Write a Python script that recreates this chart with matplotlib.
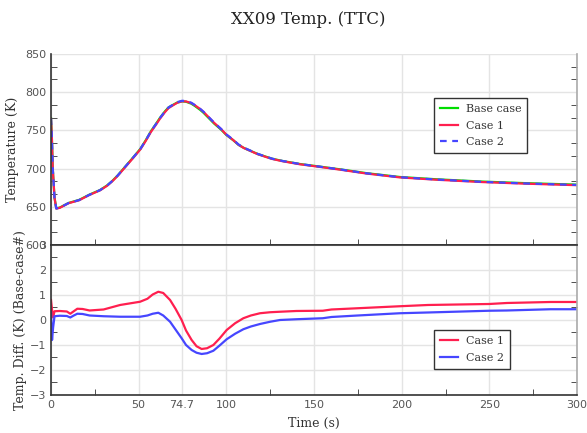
import matplotlib
matplotlib.use("Agg")
import matplotlib.pyplot as plt
from matplotlib.ticker import MultipleLocator, FixedLocator
import numpy as np

# base case temperature (K) vs time (s)
t_base = [0, 0.5, 1, 2, 3, 5, 10, 16, 22, 28, 32, 35, 38, 41, 44, 47, 51, 54, 57, 60, 62,
          65, 67, 70, 72, 74.7, 77, 80, 82, 85, 87, 90, 93, 95, 97, 100, 104, 107, 110, 114,
          118, 122, 126, 132, 142, 152, 165, 180, 199, 220, 246, 270, 300]
T_base = [766, 740, 700, 662, 648, 649, 655, 659, 666, 672, 678, 684, 691, 699, 707, 715,
          726, 737, 749, 759, 766, 775, 780, 784, 786.5, 788, 787.5, 785, 782, 777, 773,
          766, 759, 755, 751, 744, 737, 731, 727, 723, 719, 716, 713, 710, 706, 703, 699,
          694, 689, 686, 683, 681, 679]

# temperature differences (K), base - case
t_diff = [0, 0.6, 1.2, 2, 5, 9, 11, 13, 15, 18, 22, 30, 39.4, 50.8, 55, 58, 61.2, 64, 67.9,
          71, 74.5, 77, 80.2, 83, 85.9, 89, 92.6, 96, 100.2, 105, 109.7, 114, 119.2, 125,
          130.6, 140, 155, 160, 175, 199, 215, 250, 260, 285, 300]
d_case1 = [0.8, 0.4, 0.1, 0.35, 0.36, 0.34, 0.25, 0.35, 0.45, 0.44, 0.38, 0.42, 0.6, 0.73,
           0.85, 1.02, 1.13, 1.08, 0.8, 0.45, 0.0, -0.42, -0.8, -1.05, -1.16, -1.13, -1.0,
           -0.75, -0.4, -0.13, 0.07, 0.18, 0.27, 0.31, 0.33, 0.36, 0.37, 0.42, 0.47, 0.55,
           0.6, 0.64, 0.68, 0.72, 0.72]
d_case2 = [0.3, -0.8, -0.3, 0.15, 0.17, 0.16, 0.1, 0.18, 0.25, 0.24, 0.18, 0.15, 0.13, 0.13,
           0.18, 0.25, 0.29, 0.18, -0.07, -0.38, -0.73, -1.0, -1.2, -1.31, -1.36, -1.33,
           -1.23, -1.03, -0.77, -0.55, -0.37, -0.26, -0.16, -0.07, 0.0, 0.03, 0.07, 0.12,
           0.18, 0.27, 0.3, 0.37, 0.38, 0.43, 0.43]

x_ticks = [0, 50, 74.7, 100, 150, 200, 250, 300]
x_labels = ["0", "50", "74.7", "100", "150", "200", "250", "300"]

green = "#00dd00"
red = "#ff1f4f"
blue = "#4646ff"

# case temperatures from base and differences
T1 = np.array(T_base) - np.interp(t_base, t_diff, d_case1)
T2 = np.array(T_base) - np.interp(t_base, t_diff, d_case2)

fig = plt.figure(figsize=(5.87, 4.33), dpi=100)
ax1 = fig.add_axes([0.0869, 0.4342, 0.8961, 0.4411])
ax2 = fig.add_axes([0.0869, 0.0878, 0.8961, 0.3464])

ax1.plot(t_base, T_base, color=green, lw=1.6, label="Base case")
ax1.plot(t_base, T1, color=red, lw=1.6, label="Case 1")
ax1.plot(t_base, T2, color=blue, lw=1.6, ls=(0, (3, 2.5)), label="Case 2")

ax2.plot(t_diff, d_case1, color=red, lw=1.6, label="Case 1")
ax2.plot(t_diff, d_case2, color=blue, lw=1.6, label="Case 2")

for ax in (ax1, ax2):
    ax.set_xlim(0, 300)
    ax.xaxis.set_major_locator(FixedLocator(x_ticks))
    ax.xaxis.set_minor_locator(FixedLocator([25, 125, 175, 225, 275]))
    ax.grid(True, which="major", color="#e4e4e4", lw=1)
    ax.set_axisbelow(True)
    ax.tick_params(which="both", direction="in", colors="#333333", labelcolor="#555555",
                   labelsize=8, right=True, length=4)
    ax.tick_params(which="major", length=0)
    ax.spines["left"].set_color("#333333")
    ax.spines["bottom"].set_color("#333333")
    ax.spines["right"].set_color("#aaaaaa")
    ax.spines["top"].set_visible(False)
    for s in ax.spines.values():
        s.set_linewidth(1.2)

ax1.set_ylim(600, 850)
ax1.yaxis.set_major_locator(MultipleLocator(50))
ax1.yaxis.set_minor_locator(MultipleLocator(50 / 3))
ax1.set_xticklabels([])
ax1.set_ylabel("Temperature (K)", family="DejaVu Serif", fontsize=9, color="#333333", labelpad=4)

ax2.set_ylim(-3, 3)
ax2.yaxis.set_major_locator(MultipleLocator(1))
ax2.yaxis.set_minor_locator(MultipleLocator(0.5))
ax2.set_xticklabels(x_labels)
ax2.spines["top"].set_visible(True)
ax2.spines["top"].set_color("#333333")
ax2.set_ylabel("Temp. Diff. (K) (Base-case#)", family="DejaVu Serif", fontsize=9,
               color="#333333", labelpad=2)
ax2.set_xlabel("Time (s)", family="DejaVu Serif", fontsize=9, color="#333333", labelpad=5)

fig.text(0.525, 0.955, "XX09 Temp. (TTC)", family="DejaVu Serif", fontsize=12,
         ha="center", va="center", color="#222222")

leg_kw = dict(frameon=True, fancybox=False, edgecolor="#333333", framealpha=1,
              prop={"family": "DejaVu Serif", "size": 8}, handlelength=1.6,
              handletextpad=0.7, borderpad=0.55, labelspacing=0.6, loc="upper left",
              borderaxespad=0)
l1 = ax1.legend(bbox_to_anchor=(0.728, 0.77), **leg_kw)
l2 = ax2.legend(bbox_to_anchor=(0.728, 0.433), **leg_kw)
for leg in (l1, l2):
    leg.get_frame().set_linewidth(1)
    for txt in leg.get_texts():
        txt.set_color("#333333")

fig.savefig("out.png", dpi=100)
